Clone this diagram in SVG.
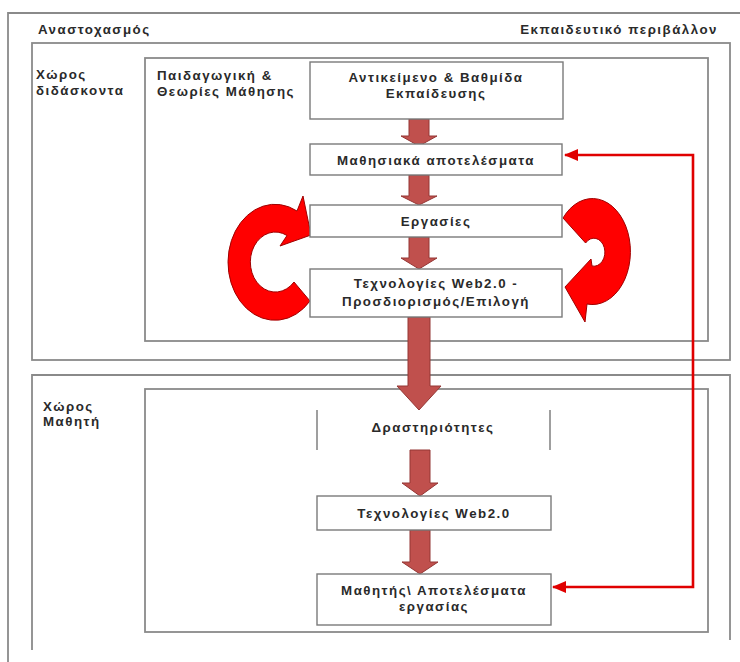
<svg xmlns="http://www.w3.org/2000/svg" width="740" height="662" viewBox="0 0 740 662">
<defs>
<style>
.frame{fill:none;stroke:#8a8a8a;stroke-width:1.8}
.box{fill:#fff;stroke:#7a7a7a;stroke-width:1.4}
.t{font-family:"Liberation Sans",Arial,sans-serif;font-size:13.3px;font-weight:bold;fill:#2a2a2a;letter-spacing:1.5px}
.c{text-anchor:middle}
.blk{fill:#c0504d;stroke:#943634;stroke-width:1}
.curl{fill:#ff0000;stroke:#a00000;stroke-width:1}
.fb{fill:none;stroke:#e00000;stroke-width:2.6}
</style>
<marker id="ah" viewBox="0 0 14 12" refX="13" refY="6" markerWidth="14" markerHeight="12" markerUnits="userSpaceOnUse" orient="auto-start-reverse">
<path d="M0,0 L14,6 L0,12 Z" fill="#e00000"/>
</marker>
</defs>
<rect width="740" height="662" fill="#fff"/>
<g id="frames">
<path class="frame" d="M8,662 V13 H740"/>
<rect class="frame" x="32" y="43" width="698" height="317"/>
<path class="frame" d="M32,650 V375 H730 V640"/>
<rect class="frame" x="145" y="58" width="563" height="283"/>
<rect class="frame" x="145" y="389" width="563" height="243"/>
<text class="t" x="38" y="34">Αναστοχασμός</text>
<text class="t" x="718" y="34" text-anchor="end">Εκπαιδευτικό περιβάλλον</text>
<text class="t" x="36" y="79">Χώρος</text>
<text class="t" x="36" y="95">διδάσκοντα</text>
<text class="t" x="157" y="80">Παιδαγωγική &amp;</text>
<text class="t" x="157" y="96">Θεωρίες Μάθησης</text>
<text class="t" x="43" y="411">Χώρος</text>
<text class="t" x="43" y="426">Μαθητή</text>
</g>
<g id="connectors">
<path class="blk" d="M409,119 H429 V136 H437 L419,146 L401,136 H409 Z"/>
<path class="blk" d="M409,175 H429 V196 H437 L419,205 L401,196 H409 Z"/>
<path class="blk" d="M409,237 H429 V258 H437 L419,269 L401,258 H409 Z"/>
<path class="blk" d="M408,317 H430 V386 H441 L419,410 L397,386 H408 Z"/>
<path class="blk" d="M410,450 H430 V483 H438 L420,496 L402,483 H410 Z"/>
<path class="blk" d="M410,530 H430 V562 H438 L420,574 L402,562 H410 Z"/>
<path class="curl" d="M294,282 L310,301 A47,58 0 1 1 297,211 L303,196 L311,235 L280,246 L287,235.5 A25,30 0 1 0 294,282 Z"/>
<path class="curl" d="M563,218 A38,53 0 1 1 587,304 L585,322 L565,287 L591,259 L592,266 A11,14 0 1 0 585.6,243 Z"/>
<path class="fb" d="M565,155 H693 V587 H553" marker-start="url(#ah)" marker-end="url(#ah)"/>
</g>
<g id="n1"><rect class="box" x="310" y="62" width="253" height="57"/>
<text class="t c" x="436" y="82">Αντικείμενο &amp; Βαθμίδα</text>
<text class="t c" x="436" y="98">Εκπαίδευσης</text></g>
<g id="n2"><rect class="box" x="310" y="144" width="252" height="31"/>
<text class="t c" x="436" y="165">Μαθησιακά αποτελέσματα</text></g>
<g id="n3"><rect class="box" x="310" y="205" width="252" height="32"/>
<text class="t c" x="436" y="226">Εργασίες</text></g>
<g id="n4"><rect class="box" x="310" y="269" width="252" height="48"/>
<text class="t c" x="436" y="288">Τεχνολογίες Web2.0 -</text>
<text class="t c" x="436" y="306">Προσδιορισμός/Επιλογή</text></g>
<g id="n5"><path class="frame" d="M317,410 V450 M550,410 V450" style="stroke:#777;stroke-width:1.4"/>
<text class="t c" x="433" y="432">Δραστηριότητες</text></g>
<g id="n6"><rect class="box" x="317" y="496" width="234" height="34"/>
<text class="t c" x="434" y="518">Τεχνολογίες Web2.0</text></g>
<g id="n7"><rect class="box" x="317" y="574" width="234" height="51"/>
<text class="t c" x="434" y="595">Μαθητής\ Αποτελέσματα</text>
<text class="t c" x="434" y="611">εργασίας</text></g>
</svg>
